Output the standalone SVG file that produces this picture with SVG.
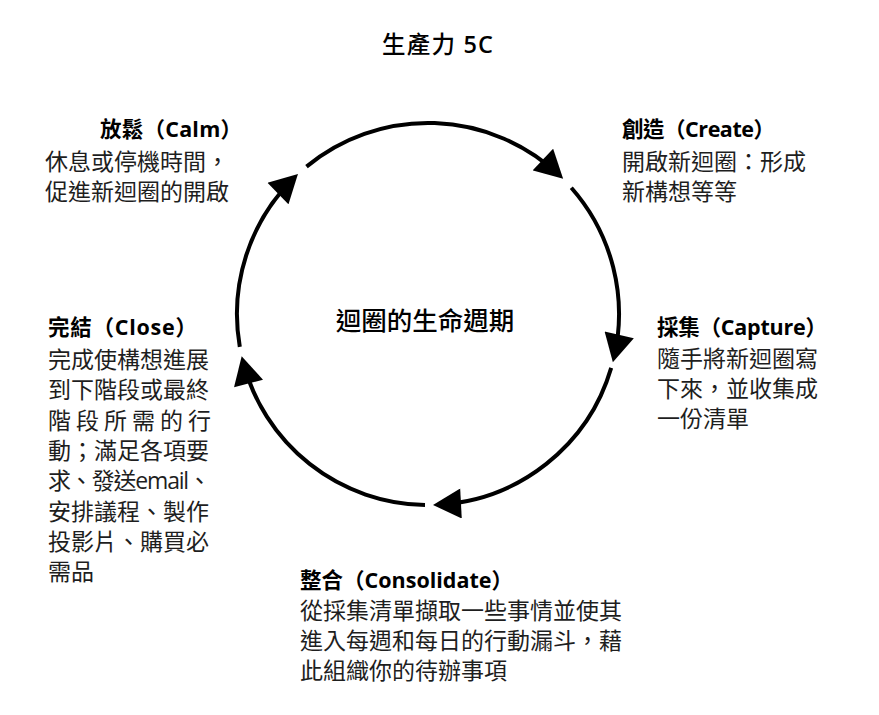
<svg xmlns="http://www.w3.org/2000/svg" width="879" height="715" viewBox="0 0 879 715">
<style>
text{font-family:"Open Sans","Noto Sans CJK TC",sans-serif;fill:#000}
.title{font-size:23.5px;font-weight:500}
.semi{font-weight:600}
.center{font-size:25.5px;font-weight:500}
.head{font-size:21.5px;font-weight:700}
.body{font-size:23px;font-weight:400;fill:#1e1e1e}
.arc{fill:none;stroke:#000;stroke-width:4;marker-end:url(#ah)}
</style>
<defs>
<marker id="ah" markerUnits="userSpaceOnUse" markerWidth="29" markerHeight="30" viewBox="0 0 28 30" refX="23" refY="15" orient="auto">
<path d="M0,0 L28,15 L0,30 Z" fill="#000"/>
</marker>
</defs>
<rect width="879" height="715" fill="#fff"/>
<g id="title"><text class="title" x="382" y="53" textLength="111" lengthAdjust="spacing">生產力 <tspan class="semi">5C</tspan></text></g>
<g id="connectors">
<path class="arc" d="M306.5,166.6 A191,191 0 0 1 559.5,175.4"/>
<path class="arc" d="M571.3,187.7 A191,191 0 0 1 614.0,357.3"/>
<path class="arc" d="M611.2,367.9 A191,191 0 0 1 438.0,504.7"/>
<path class="arc" d="M425.0,505.0 A191,191 0 0 1 242.9,361.2"/>
<path class="arc" d="M239.8,346.8 A191,191 0 0 1 294.4,177.5"/>
</g>
<g id="center"><text class="center" x="425" y="330" text-anchor="middle">迴圈的生命週期</text></g>
<g id="calm">
<text class="head" x="100" y="137" textLength="142" lengthAdjust="spacing">放鬆（Calm）</text>
<text class="body" x="45" y="170">休息或停機時間，</text>
<text class="body" x="45" y="200">促進新迴圈的開啟</text>
</g>
<g id="create">
<text class="head" x="622" y="137" textLength="153" lengthAdjust="spacing">創造（Create）</text>
<text class="body" x="622" y="170">開啟新迴圈：形成</text>
<text class="body" x="622" y="200">新構想等等</text>
</g>
<g id="capture">
<text class="head" x="657" y="335" textLength="170" lengthAdjust="spacing">採集（Capture）</text>
<text class="body" x="657" y="367">隨手將新迴圈寫</text>
<text class="body" x="657" y="397">下來，並收集成</text>
<text class="body" x="657" y="427">一份清單</text>
</g>
<g id="close">
<text class="head" x="48" y="335" textLength="149" lengthAdjust="spacing">完結（Close）</text>
<text class="body" x="48" y="368">完成使構想進展</text>
<text class="body" x="48" y="398.3">到下階段或最終</text>
<text class="body" x="48" y="428.6" textLength="163" lengthAdjust="spacing">階 段 所 需 的 行</text>
<text class="body" x="48" y="458.9">動；滿足各項要</text>
<text class="body" x="48" y="489.2" textLength="163" lengthAdjust="spacing">求、發送email、</text>
<text class="body" x="48" y="519.5">安排議程、製作</text>
<text class="body" x="48" y="549.8">投影片、購買必</text>
<text class="body" x="48" y="580.1">需品</text>
</g>
<g id="consolidate">
<text class="head" x="300" y="588" textLength="213" lengthAdjust="spacing">整合（Consolidate）</text>
<text class="body" x="300" y="619">從採集清單擷取一些事情並使其</text>
<text class="body" x="300" y="649">進入每週和每日的行動漏斗，藉</text>
<text class="body" x="300" y="679">此組織你的待辦事項</text>
</g>
</svg>
